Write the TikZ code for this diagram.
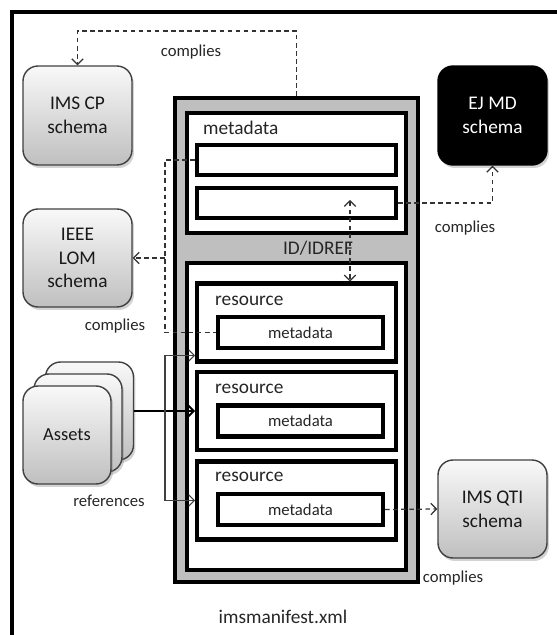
\documentclass[tikz,border=0pt]{standalone}
\usepackage{fontspec}
\setmainfont{Carlito}
\usetikzlibrary{positioning,arrows.meta,shadows}

\begin{document}
\begin{tikzpicture}[x=0.02cm, y=-0.02cm, >={Straight Barb[length=3.2pt,width=6.5pt]},
        schema/.style={rounded corners=0.3cm, draw=black!75, line width=0.8pt,
            top color=gray!5, bottom color=gray!50, minimum width=2.18cm,
            minimum height=1.98cm, align=center, text=black!90,
            font=\fontsize{11}{13.5}\selectfont,
            drop shadow={opacity=0.35, shadow xshift=0.4mm, shadow yshift=-0.6mm}},
        asset_style/.style={schema, minimum width=1.76cm, minimum height=1.96cm},
        box_style/.style={draw=black, line width=2.3pt, fill=white, inner sep=0pt},
        label_style/.style={text=black!85, font=\fontsize{9.5}{11}\selectfont},
        big_label/.style={text=black!85, font=\fontsize{11}{13}\selectfont},
        link_style/.style={draw=black!80, line width=0.7pt, dash pattern=on 2.6pt off 2pt},
        ref_style/.style={draw=black!75, line width=0.6pt}]
        \useasboundingbox (0,0) rectangle (557,635);
        % outer frame
        \draw[line width=2pt] (12,660) -- (12,12) -- (580,12);

        % schemas
        \node[schema] (cp) at (77.5,115.5) {IMS CP\\schema};
        \node[schema, fill=black, top color=black, bottom color=black, draw=black,
            text=white] (ejmd) at (492.5,115.5) {EJ MD\\schema};
        \node[schema, minimum height=1.96cm] (lom) at (77.5,258) {IEEE\\LOM\\schema};
        \node[schema, minimum height=1.96cm] (qti) at (492.5,509) {IMS QTI\\schema};

        % assets
        \node[asset_style] (assetsc) at (89.5,411) {};
        \node[asset_style] (assetsb) at (78,423) {};
        \node[asset_style, font=\fontsize{10.5}{12}\selectfont] (assets) at (67,435) {Assets};

        % manifest
        \node[draw=black, line width=2.3pt, fill=black!25, minimum width=4.86cm,
            minimum height=9.68cm] (manifest) at (296.5,340) {};
        \node[box_style, minimum width=4.38cm, minimum height=2.4cm] (md) at (296.5,173) {};
        \node[box_style, minimum width=3.98cm, minimum height=0.6cm] (mdone) at (296.5,160) {};
        \node[box_style, minimum width=3.98cm, minimum height=0.6cm] (mdtwo) at (296.5,203) {};
        \node[box_style, minimum width=4.38cm, minimum height=6.14cm] (res) at (296.5,416.5) {};
        \node[box_style, minimum width=3.98cm, minimum height=1.56cm] (resone) at (296.5,322.5) {};
        \node[box_style, minimum width=3.98cm, minimum height=1.56cm] (restwo) at (296.5,411) {};
        \node[box_style, minimum width=3.98cm, minimum height=1.56cm] (resthree) at (296.5,500.5) {};
        \node[box_style, minimum width=3.3cm, minimum height=0.62cm, label_style] (rmdone) at (300.5,332.5) {metadata};
        \node[box_style, minimum width=3.3cm, minimum height=0.62cm, label_style] (rmdtwo) at (300.5,421) {metadata};
        \node[box_style, minimum width=3.3cm, minimum height=0.62cm, label_style] (rmdthree) at (300.5,509.5) {metadata};

        \node[big_label, anchor=west] (mdlabel) at (197,128) {metadata};
        \node[big_label, anchor=west] (rlone) at (209,301) {resource};
        \node[big_label, anchor=west] (rltwo) at (209,389) {resource};
        \node[big_label, anchor=west] (rlthree) at (209,477) {resource};
        \node[big_label] (idref) at (318,248) {ID/IDREF};

        % complies links
        \coordinate (cptop) at (296.5,31);
        \draw[link_style,->] (manifest.north) -- (cptop) -| (cp.north);
        \draw[link_style,->] (mdtwo.east) -| (ejmd.south);
        \coordinate (lomjoin) at (165,258);
        \draw[link_style] (mdone.west) -| (lomjoin) |- (rmdone.west);
        \draw[link_style,->] (lomjoin) -- (lom.east);
        \draw[link_style,->] (rmdthree.east) -- (qti.west);
        \coordinate (idtop) at (350,200);
        \draw[link_style,<->] (idtop) -- (idtop |- resone.north);

        % references
        \coordinate (refsplit) at (165,411);
        \draw[ref_style, line width=1.1pt, draw=black, ->] (assetsc.east) -- (restwo.west);
        \draw[ref_style,->] (refsplit) |- ([yshift=0.16cm]resone.south west);
        \draw[ref_style,->] (refsplit) |- (resthree.west);

        % labels
        \node[label_style] (lblcp) at (191,52) {complies};
        \node[label_style] (lblej) at (465,228) {complies};
        \node[label_style] (lbllom) at (115,326) {complies};
        \node[label_style] (lblref) at (109,501) {references};
        \node[label_style] (lblqti) at (453,578) {complies};
        \node[big_label] (lblfile) at (283,617) {imsmanifest.xml};
      \end{tikzpicture}
\end{document}
